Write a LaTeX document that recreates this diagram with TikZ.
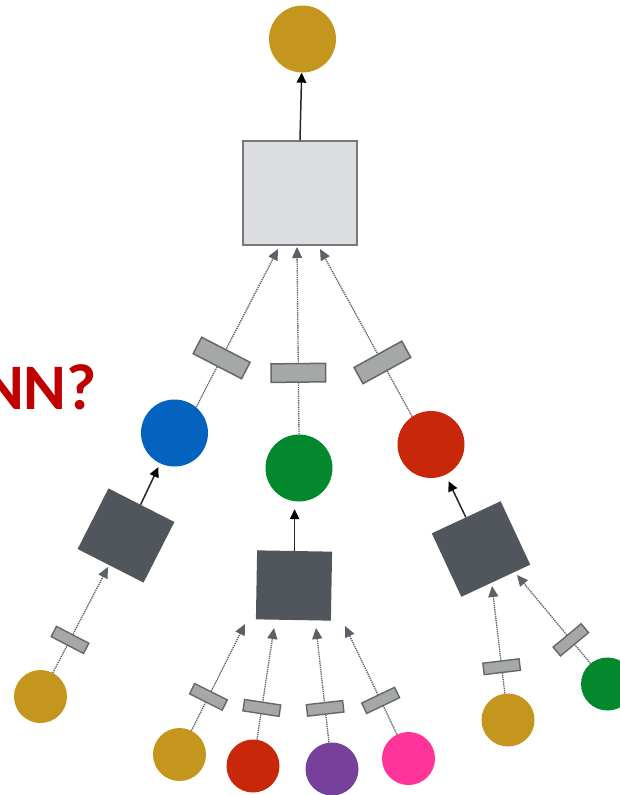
\documentclass[tikz,border=0pt]{standalone}
\usepackage{fontspec}
\newfontfamily\nnfont{Carlito}
\usetikzlibrary{arrows.meta,calc}
\definecolor{cgold}{HTML}{C4961D}
\definecolor{cblue}{HTML}{0563C0}
\definecolor{cgreen}{HTML}{04882E}
\definecolor{cred}{HTML}{C9270A}
\definecolor{cpurple}{HTML}{77409B}
\definecolor{cpink}{HTML}{FF3399}
\definecolor{celldark}{HTML}{51565D}
\definecolor{gatefill}{HTML}{A5A8A6}
\definecolor{gateline}{HTML}{65686B}
\definecolor{bigfill}{HTML}{DCDDDF}
\definecolor{bigline}{HTML}{76787B}
\definecolor{dotline}{HTML}{5F6368}
\definecolor{tipgray}{HTML}{5C6168}
\definecolor{nnred}{HTML}{C00000}
\begin{document}
\begin{tikzpicture}[x=1pt,y=-1pt,
  bub/.style={circle,inner sep=0pt,minimum size=67pt,fill=#1},
  sbub/.style={circle,inner sep=0pt,minimum size=53pt,fill=#1},
  gatebig/.style={solid,draw=gateline,fill=gatefill,line width=1.5pt,sloped,
    minimum width=18.5pt,minimum height=54.5pt,inner sep=0pt},
  gatesmall/.style={solid,draw=gateline,fill=gatefill,line width=1.4pt,sloped,
    minimum width=11.5pt,minimum height=36.5pt,inner sep=0pt},
  cell/.style={fill=celldark,inner sep=0pt},
  feed/.style={draw=dotline,line width=1.35pt,dash pattern=on 1.3pt off 0.9pt,
    -{Triangle[width=10pt,length=11pt,color=tipgray]}},
  push/.style={draw=black!85,line width=1.5pt,
    -{Triangle[width=9.5pt,length=10pt,color=black]}}]
\useasboundingbox (0,0) rectangle (619,795);
\fill[white] (0,0) rectangle (619,795);

% text
\node[font=\nnfont\bfseries\fontsize{65}{65}\selectfont,text=nnred,
  anchor=base east,inner sep=0pt] (q) at (97,409) {NN?};

% top part
\node[bub=cgold] (top) at (302.5,39) {};
\node[draw=bigline,fill=bigfill,line width=1.4pt,minimum width=114pt,
  minimum height=104pt,inner sep=0pt] (big) at (300,193) {};

% middle layer
\node[bub=cblue] (blue) at (174.5,433) {};
\node[bub=cgreen] (green) at (299,468) {};
\node[bub=cred] (red) at (431,444.5) {};

% cells
\node[cell,minimum width=74pt,minimum height=68pt,rotate=-27] (lsq) at (126,535.5) {};
\node[cell,minimum width=75pt,minimum height=69pt,rotate=-1] (msq) at (294,585.5) {};
\node[cell,minimum width=76pt,minimum height=70pt,rotate=25] (rsq) at (481,549) {};

% leaves
\node[sbub=cgold] (g1) at (40.5,696.5) {};
\node[sbub=cgold] (g2) at (179.5,754.5) {};
\node[sbub=cred] (r2) at (253,766) {};
\node[sbub=cpurple] (p2) at (332,769) {};
\node[sbub=cpink] (k2) at (408.5,758.5) {};
\node[sbub=cgold] (g3) at (508,720) {};
\node[sbub=cgreen] (n3) at (607.5,684) {};

% arrow tips (free ends)
\coordinate (t1) at (278,249);
\coordinate (t2) at (297,247);
\coordinate (t3) at (320,249);
\coordinate (t4) at (108,567);
\coordinate (t5) at (245,624);
\coordinate (t6) at (274,628);
\coordinate (t7) at (316,628);
\coordinate (t8) at (345,626);
\coordinate (t9) at (492,586);
\coordinate (t10) at (517,575);

% solid arrows
\draw[push] (big.north) -- (top);
\draw[push,shorten >=4pt] (lsq) -- (blue);
\draw[push,shorten >=7.5pt] (msq.north) -- (msq.north |- green.south);
\draw[push,shorten >=7pt] (rsq) -- (red);

% dotted feeds with gates
\draw[feed] (blue.50) -- node[gatebig,pos=0.311]{} (t1);
\draw[feed] (green.north) -- node[gatebig,pos=0.328]{} (t2);
\draw[feed] (red.124) -- node[gatebig,pos=0.323]{} (t3);

\draw[feed] (g1) -- node[gatesmall,pos=0.311]{} (t4);
\draw[feed] (g2) -- node[gatesmall,pos=0.317]{} (t5);
\draw[feed] (r2) -- node[gatesmall,pos=0.284]{} (t6);
\draw[feed] (p2) -- node[gatesmall,pos=0.298]{} (t7);
\draw[feed] (k2) -- node[gatesmall,pos=0.314]{} (t8);
\draw[feed] (g3) -- node[gatesmall,pos=0.249]{} (t9);
\draw[feed] (n3) -- node[gatesmall,pos=0.267]{} (t10);
\end{tikzpicture}
\end{document}
